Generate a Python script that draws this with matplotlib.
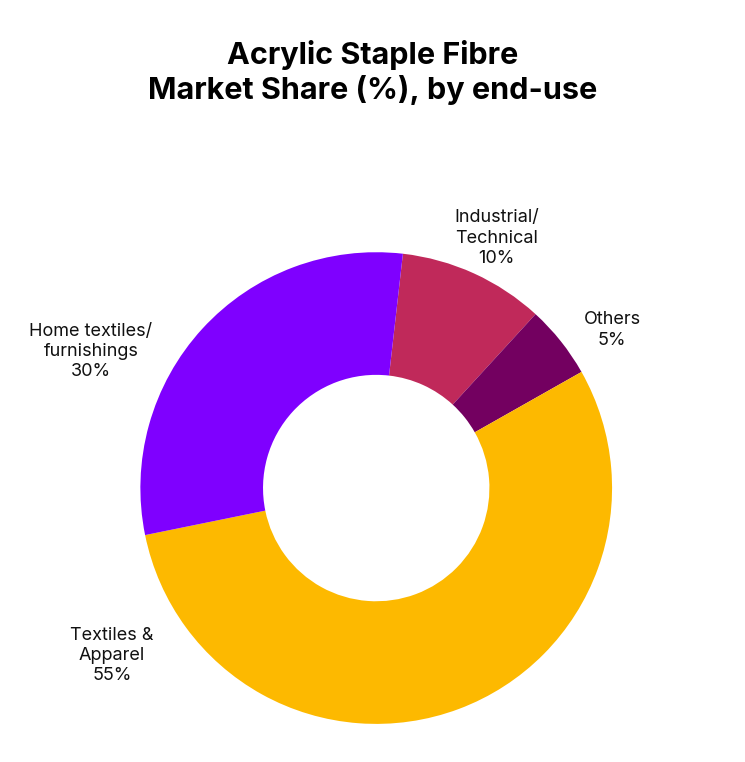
import matplotlib
matplotlib.use("Agg")
import matplotlib.pyplot as plt

categories = ["Industrial/\nTechnical", "Others", "Textiles &\nApparel", "Home textiles/\nfurnishings"]
values = [10, 5, 55, 30]
colors = ["#C0295A", "#730060", "#FDB900", "#7F00FF"]
label_pos = [(0.51, 1.06), (1.0, 0.67), (-1.12, -0.71), (-1.21, 0.58)]

plt.rcParams['font.family'] = ['Inter', 'DejaVu Sans']
fig = plt.figure(figsize=(7.45, 7.62), dpi=100)
ax = fig.add_axes([0.188, 0.05, 0.634, 0.619])
ax.pie(values, colors=colors, startangle=83.5, counterclock=False,
       radius=1, wedgeprops=dict(width=0.52, linewidth=0))
ax.set_xlim(-1, 1); ax.set_ylim(-1, 1); ax.set_aspect('equal')
for c, v, (x, y) in zip(categories, values, label_pos):
    ax.text(x, y, f"{c}\n{v}%", ha='center', va='center', fontsize=13,
            linespacing=1.25, clip_on=False, color='#111111')
fig.text(0.5, 0.905, "Acrylic Staple Fibre\nMarket Share (%), by end-use",
         ha='center', va='center', fontsize=22, fontweight='bold', linespacing=1.2)
fig.savefig("out.png", dpi=100, facecolor='white')
